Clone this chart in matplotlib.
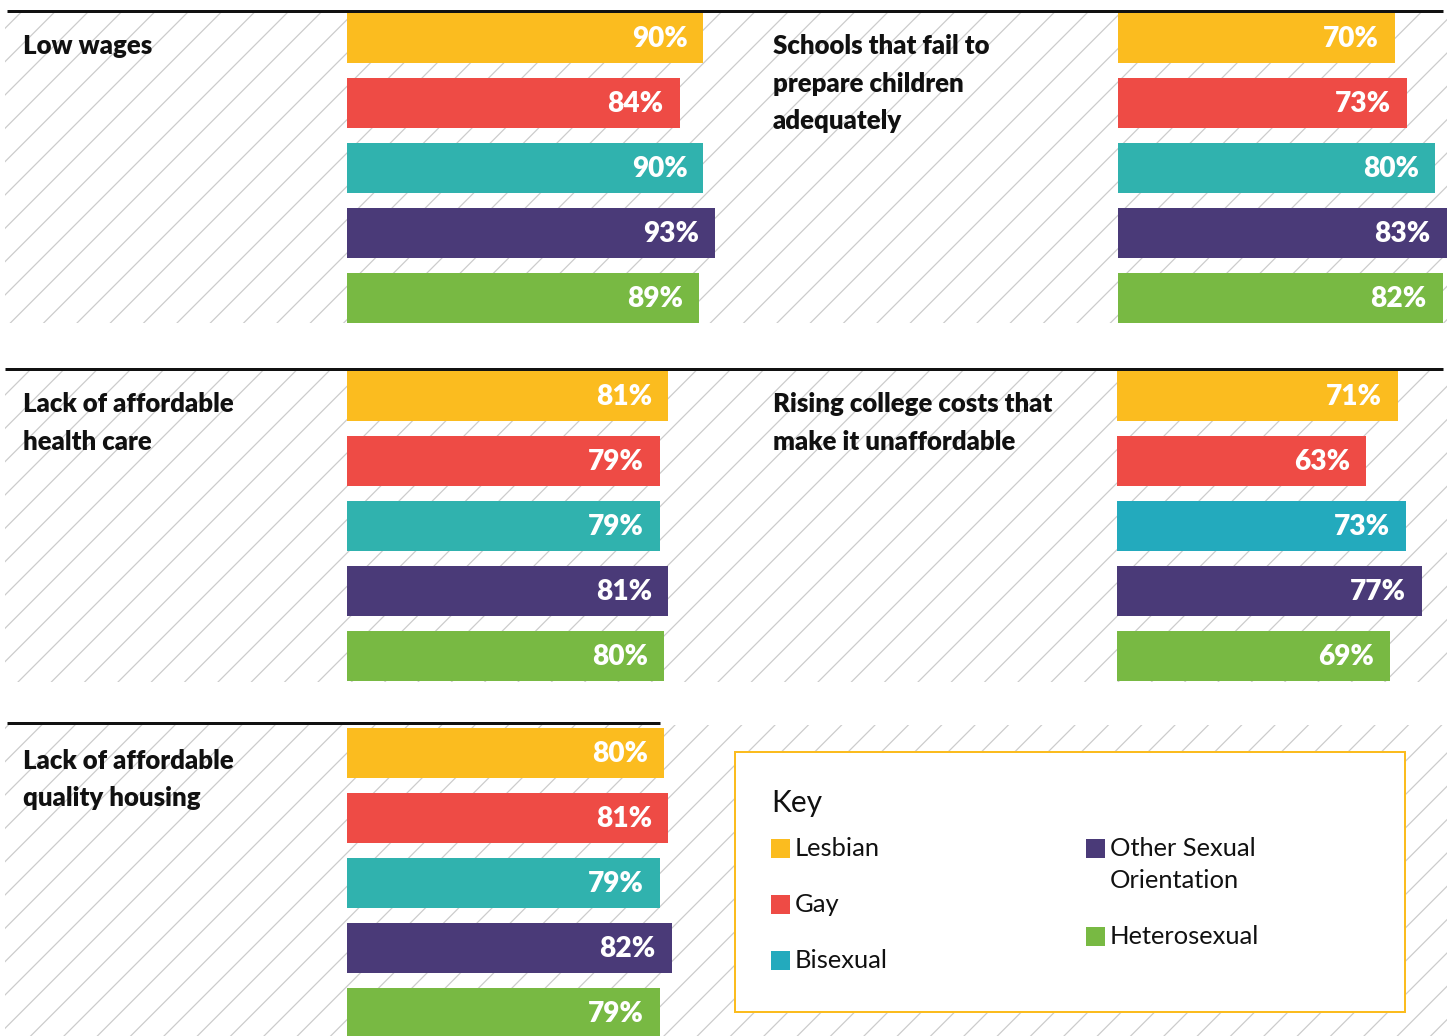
""" Survey infographic: share reporting each issue as a problem, by sexual orientation """

import matplotlib
matplotlib.use('Agg')
import matplotlib.pyplot as plt
from matplotlib.patches import Rectangle

plt.rcParams['font.family'] = ['Lato', 'DejaVu Sans']
plt.rcParams['hatch.linewidth'] = 0.45

# groups (legend order) and colours
groups = ['Lesbian', 'Gay', 'Bisexual', 'Other Sexual\nOrientation', 'Heterosexual']
colors = ['#FBBC1F', '#EE4B45', '#30B2AE', '#4A3A78', '#78B943']
teal_alt = '#23AABD'

# panel titles and values (%)
titles = ['Low wages',
          'Schools that fail to\nprepare children\nadequately',
          'Lack of affordable\nhealth care',
          'Rising college costs that\nmake it unaffordable',
          'Lack of affordable\nquality housing']
values = [[90, 84, 90, 93, 89],
          [70, 73, 80, 83, 82],
          [81, 79, 79, 81, 80],
          [71, 63, 73, 77, 69],
          [80, 81, 79, 82, 79]]

DPI = 200
W, H = 1447, 1036


def pt(px):
    return px * 72 / DPI


fig = plt.figure(figsize=(W / DPI, H / DPI), dpi=DPI)
ax = fig.add_axes([0, 0, 1, 1])
ax.set_xlim(0, W)
ax.set_ylim(H, 0)
ax.axis('off')

# hatched backgrounds for the three rows
for (y0, y1, x0, x1) in [(11, 323, 5, W), (369, 682, 5, W), (725, H, 5, W)]:
    ax.add_patch(Rectangle((x0, y0), x1 - x0, y1 - y0, fill=False, hatch='//',
                           edgecolor='#cccccc', linewidth=0, zorder=0))

# separator rules
ax.plot([7, 1443], [11, 11], color='#111111', lw=pt(3), solid_capstyle='butt', zorder=3)
ax.plot([5, 1443], [369, 369], color='#111111', lw=pt(3), solid_capstyle='butt', zorder=3)
ax.plot([7, 660], [723, 723], color='#111111', lw=pt(3), solid_capstyle='butt', zorder=3)

# panel layout: (title x, bar start x, row top y)
panels = [(23, 347, 13), (773, 1118, 13), (23, 347, 371), (773, 1117, 371), (23, 347, 728)]
scale = 3.96  # px per percent
bar_h = 50
step = 65

for i, (tx, bx, top) in enumerate(panels):
    for j, line in enumerate(titles[i].split('\n')):
        ax.text(tx, top + 41 + j * 37.5, line, fontsize=pt(25.8), fontweight='heavy',
                color='#111111', va='baseline', ha='left', zorder=4)
    ys = [top + k * step + bar_h / 2 for k in range(len(values[i]))]
    cols = list(colors)
    if i == 3:
        cols[2] = teal_alt
    ax.barh(ys, [v * scale for v in values[i]], left=bx, height=bar_h, color=cols,
            edgecolor='none', zorder=2)
    for y, v in zip(ys, values[i]):
        ax.text(bx + v * scale - 16, y + 1, f'{v}%', color='white', fontsize=pt(28),
                fontweight='heavy', ha='right', va='center', zorder=4)

# key box
ax.add_patch(Rectangle((735, 752), 670, 260, facecolor='white', edgecolor='#FBBC1F',
                       linewidth=pt(2), zorder=3))
ax.text(771, 803, 'Key', fontsize=pt(30), color='#111111', ha='left', va='center', zorder=4)
key_pos = [(771, 848), (771, 904), (771, 960), (1086, 848), (1086, 936)]
key_cols = [colors[0], colors[1], teal_alt, colors[3], colors[4]]
for (kx, ky), g, c in zip(key_pos, groups, key_cols):
    ax.add_patch(Rectangle((kx, ky - 9.5), 19, 19, facecolor=c, edgecolor='none', zorder=4))
    for j, line in enumerate(g.split('\n')):
        ax.text(kx + 24, ky + 8 + j * 32, line, fontsize=pt(25.5), color='#111111',
                ha='left', va='baseline', zorder=4)

fig.savefig('out.png', dpi=DPI)
